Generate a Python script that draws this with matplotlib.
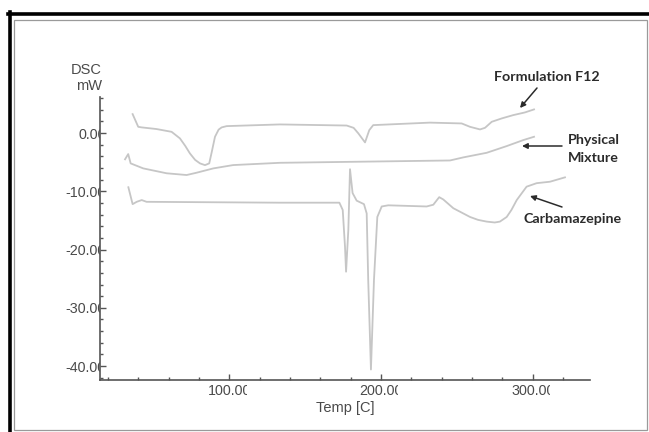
import matplotlib
matplotlib.use("Agg")
import matplotlib.pyplot as plt
from matplotlib.lines import Line2D
from matplotlib.patches import Rectangle
from matplotlib.transforms import Bbox, TransformedBbox, blended_transform_factory
from matplotlib.ticker import FixedLocator, MultipleLocator

# ---------------- data ----------------
f12_temp = [36.3, 40.0, 42.3, 52.0, 62.0, 67.5, 71.0, 74.1, 77.5, 80.7, 84.0, 86.8,
            88.5, 90.6, 93.0, 95.0, 98.3, 133.4, 177.4, 182.0, 185.1, 189.5, 192.3,
            194.9, 232.3, 253.2, 258.7, 265.3, 268.6, 273.0, 279.6, 287.2, 294.9, 300.9]
f12_dsc = [3.26, 1.08, 0.98, 0.7, 0.22, -0.91, -2.2, -3.5, -4.6, -5.2, -5.5, -5.2,
           -3.2, -0.63, 0.6, 0.98, 1.2, 1.49, 1.3, 0.9, -0.05, -1.6, 0.51,
           1.37, 1.8, 1.66, 1.08, 0.63, 0.91, 1.94, 2.52, 3.09, 3.55, 4.07]

pm_temp = [31.3, 33.4, 35.0, 43.3, 58.7, 71.9, 78.5, 89.5, 102.6, 133.4, 245.5,
           254.3, 269.7, 282.9, 293.8, 300.9]
pm_dsc = [-4.5, -3.6, -5.2, -6.06, -6.9, -7.2, -6.8, -6.06, -5.49, -5.1, -4.7,
          -4.17, -3.38, -2.23, -1.2, -0.63]

cbz_temp = [33.5, 36.3, 39.0, 42.3, 45.5, 133.4, 172.6, 174.8, 176.3, 177.0, 178.5,
            179.6, 181.3, 184.0, 188.8, 190.6, 191.6, 193.4, 195.4, 197.6, 200.5,
            204.8, 230.1, 234.5, 238.4, 241.1, 247.7, 258.7, 264.0, 269.7, 275.0,
            278.4, 282.9, 286.0, 289.5, 296.0, 302.6, 311.4, 321.3]
cbz_dsc = [-9.3, -12.2, -11.8, -11.5, -11.8, -11.95, -11.95, -13.2, -19.5, -23.8, -16.6,
           -6.2, -10.3, -11.6, -12.2, -13.8, -25.2, -40.6, -25.2, -14.4, -12.6,
           -12.4, -12.6, -12.3, -11.0, -11.4, -12.9, -14.4, -14.9, -15.2, -15.35,
           -15.2, -14.4, -13.2, -11.5, -9.2, -8.6, -8.35, -7.6]

x_major = [100, 200, 300]
x_labels = ["100.00", "200.00", "300.00"]
y_major = [0, -10, -20, -30, -40]
y_labels = ["0.00", "-10.00", "-20.00", "-30.00", "-40.00"]

# ---------------- figure ----------------
W, H = 649, 432
fig = plt.figure(figsize=(W / 100, H / 100), dpi=100)
fig.patch.set_facecolor("white")

def fx(px):
    return px / W

def fy(py):
    return 1 - py / H

# outer frame (screenshot border)
fig.add_artist(Rectangle((fx(14), fy(430)), fx(647) - fx(14), fy(20) - fy(430),
                         transform=fig.transFigure, fill=False, ec="#9a9a9a", lw=0.9))
fig.add_artist(Line2D([fx(8), 1.0], [fy(13.5), fy(13.5)], transform=fig.transFigure,
                      color="black", lw=2.6))
fig.add_artist(Line2D([fx(10), fx(10)], [fy(12), 0.0], transform=fig.transFigure,
                      color="black", lw=2.6))

ax_left, ax_right, ax_top, ax_bot = 100, 590, 97, 380
ax = fig.add_axes([fx(ax_left), fy(ax_bot), fx(ax_right) - fx(ax_left), fy(ax_top) - fy(ax_bot)])
ax.set_facecolor("none")
ax.set_xlim(14.8, 337.8)
ax.set_ylim(-42.4, 6.2)

for s in ["top", "right"]:
    ax.spines[s].set_visible(False)
for s in ["left", "bottom"]:
    ax.spines[s].set_color("#555555")
    ax.spines[s].set_linewidth(1.2)

curve_color = "#c6c6c6"
for t, d in [(f12_temp, f12_dsc), (pm_temp, pm_dsc), (cbz_temp, cbz_dsc)]:
    ax.plot(t, d, color=curve_color, lw=1.3, solid_joinstyle="round", clip_on=False)

ax.xaxis.set_major_locator(FixedLocator(x_major))
ax.xaxis.set_minor_locator(MultipleLocator(20))
ax.yaxis.set_major_locator(FixedLocator(y_major))
ax.yaxis.set_minor_locator(MultipleLocator(2))
ax.set_xticklabels(x_labels)
ax.set_yticklabels(y_labels)
ax.tick_params(which="both", direction="in", color="#555555", width=1.0)
ax.tick_params(which="major", length=4.5)
ax.tick_params(which="minor", length=2.5)
ax.tick_params(axis="x", which="major", pad=3, labelsize=10.3, labelcolor="#4a4a4a")
ax.tick_params(axis="y", which="major", pad=-4, labelsize=10.3, labelcolor="#4a4a4a")
for lab in ax.get_xticklabels() + ax.get_yticklabels():
    lab.set_fontfamily("Liberation Sans")

# clip labels like the reference (truncated label boxes)
yclip = TransformedBbox(Bbox([[0, 0], [fx(ax_left), 1]]), fig.transFigure)
for lab in ax.get_yticklabels():
    lab.set_clip_on(True)
    lab.set_clip_box(yclip)
bt = blended_transform_factory(ax.transData, fig.transFigure)
for tk in ax.xaxis.get_major_ticks():
    t = tk.get_loc()
    tk.label1.set_clip_on(True)
    tk.label1.set_clip_box(TransformedBbox(Bbox([[t - 40, 0], [t + 11.4, 1]]), bt))

# axis titles
fig.text(fx(102), fy(78), "DSC\nmW", ha="right", va="center", fontsize=10.5,
         family="Liberation Sans", color="#4a4a4a", linespacing=1.15)
fig.text(fx(345), fy(408), "Temp [C]", ha="center", va="center", fontsize=10.5,
         family="Liberation Sans", color="#4a4a4a")

# annotations
ann_font = dict(fontsize=10.3, family="Lato", weight="bold", color="#2b2b2b")
arrow = dict(arrowstyle="-|>", color="#2b2b2b", lw=1.1, mutation_scale=8,
             shrinkA=0, shrinkB=0)

def P(px, py):
    return (px, H - py)

fig.text(fx(547), fy(77), "Formulation F12", ha="center", va="center", **ann_font)
ax.annotate("", xy=P(520, 108), xytext=P(537, 88), xycoords="figure pixels",
            textcoords="figure pixels", arrowprops=arrow, annotation_clip=False)

fig.text(fx(568), fy(149), "Physical\nMixture", ha="left", va="center",
         linespacing=1.6, **ann_font)
ax.annotate("", xy=P(522, 146), xytext=P(562, 146), xycoords="figure pixels",
            textcoords="figure pixels", arrowprops=arrow, annotation_clip=False)

fig.text(fx(523), fy(219), "Carbamazepine", ha="left", va="center", **ann_font)
ax.annotate("", xy=P(530, 196), xytext=P(562, 207), xycoords="figure pixels",
            textcoords="figure pixels", arrowprops=arrow, annotation_clip=False)

fig.savefig("out.png", dpi=100, facecolor="white")
